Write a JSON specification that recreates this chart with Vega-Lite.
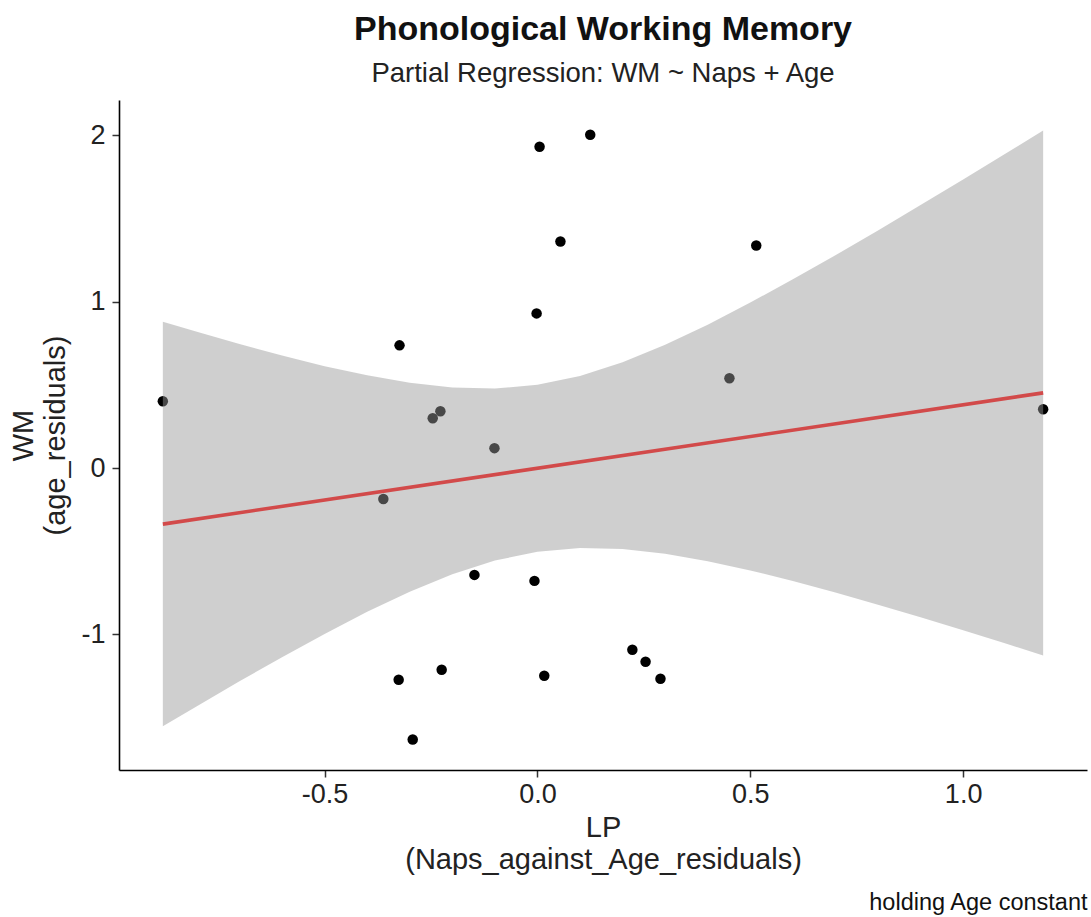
{
  "$schema": "https://vega.github.io/schema/vega-lite/v6.json",
  "autosize": "none",
  "padding": {"left": 119, "top": 100, "right": 4, "bottom": 147},
  "width": 968,
  "height": 670,
  "background": "white",
  "config": {
    "font": "Liberation Sans",
    "view": {"stroke": null},
    "axis": {
      "grid": false,
      "domainColor": "black",
      "domainWidth": 1.6,
      "tickColor": "#333333",
      "tickWidth": 1.5,
      "tickSize": 7,
      "labelColor": "#222222",
      "labelFont": "Liberation Sans",
      "labelFontSize": 27,
      "titleFont": "Liberation Sans",
      "titleFontSize": 29,
      "titleFontWeight": "normal",
      "titleColor": "#222222",
      "titleLineHeight": 32
    }
  },
  "datasets": {
    "residuals": [
      {"lp": -0.880, "wm": 0.402},
      {"lp": -0.324, "wm": 0.738},
      {"lp": -0.246, "wm": 0.300},
      {"lp": -0.228, "wm": 0.342},
      {"lp": -0.101, "wm": 0.120},
      {"lp": -0.362, "wm": -0.186},
      {"lp": -0.002, "wm": 0.930},
      {"lp": 0.005, "wm": 1.932},
      {"lp": 0.124, "wm": 2.004},
      {"lp": 0.054, "wm": 1.362},
      {"lp": 0.514, "wm": 1.338},
      {"lp": 0.451, "wm": 0.540},
      {"lp": 1.188, "wm": 0.354},
      {"lp": -0.148, "wm": -0.642},
      {"lp": -0.007, "wm": -0.678},
      {"lp": -0.326, "wm": -1.272},
      {"lp": -0.225, "wm": -1.212},
      {"lp": 0.016, "wm": -1.248},
      {"lp": -0.293, "wm": -1.632},
      {"lp": 0.223, "wm": -1.092},
      {"lp": 0.254, "wm": -1.164},
      {"lp": 0.289, "wm": -1.266}
    ],
    "band": [
      {"lp": -0.88, "lo": -1.552, "hi": 0.880},
      {"lp": -0.8, "lo": -1.431, "hi": 0.819},
      {"lp": -0.7, "lo": -1.282, "hi": 0.746},
      {"lp": -0.6, "lo": -1.137, "hi": 0.677},
      {"lp": -0.5, "lo": -0.997, "hi": 0.613},
      {"lp": -0.4, "lo": -0.864, "hi": 0.558},
      {"lp": -0.3, "lo": -0.743, "hi": 0.513},
      {"lp": -0.2, "lo": -0.638, "hi": 0.484},
      {"lp": -0.1, "lo": -0.556, "hi": 0.478},
      {"lp": 0.0, "lo": -0.503, "hi": 0.501},
      {"lp": 0.1, "lo": -0.480, "hi": 0.554},
      {"lp": 0.2, "lo": -0.486, "hi": 0.636},
      {"lp": 0.3, "lo": -0.515, "hi": 0.741},
      {"lp": 0.4, "lo": -0.560, "hi": 0.862},
      {"lp": 0.5, "lo": -0.615, "hi": 0.995},
      {"lp": 0.6, "lo": -0.679, "hi": 1.135},
      {"lp": 0.7, "lo": -0.748, "hi": 1.280},
      {"lp": 0.8, "lo": -0.821, "hi": 1.429},
      {"lp": 0.9, "lo": -0.897, "hi": 1.581},
      {"lp": 1.0, "lo": -0.975, "hi": 1.735},
      {"lp": 1.1, "lo": -1.055, "hi": 1.891},
      {"lp": 1.188, "lo": -1.126, "hi": 2.030}
    ]
  },
  "title": {
    "text": "Phonological Working Memory",
    "subtitle": "Partial Regression: WM ~ Naps + Age",
    "anchor": "middle",
    "frame": "group",
    "font": "Liberation Sans",
    "fontSize": 34,
    "fontWeight": "bold",
    "color": "#111111",
    "subtitleFont": "Liberation Sans",
    "subtitleFontSize": 27.5,
    "subtitleColor": "#222222",
    "subtitlePadding": 13,
    "offset": 13
  },
  "resolve": {"axis": {"x": "independent"}},
  "layer": [
    {
      "data": {"name": "residuals"},
      "mark": {"type": "circle", "size": 110, "opacity": 1, "color": "black"},
      "encoding": {
        "x": {
          "field": "lp",
          "type": "quantitative",
          "scale": {"domain": [-0.983, 1.291], "nice": false, "zero": false},
          "axis": {
            "values": [-0.5, 0, 0.5, 1.0],
            "labelExpr": "datum.value < 0 ? '-' + format(-datum.value, '.1f') : format(datum.value, '.1f')",
            "labelPadding": 4,
            "title": ["LP", "(Naps_against_Age_residuals)"],
            "titlePadding": 6
          }
        },
        "y": {
          "field": "wm",
          "type": "quantitative",
          "scale": {"domain": [-1.815, 2.213], "nice": false, "zero": false},
          "axis": {
            "values": [-1, 0, 1, 2],
            "labelExpr": "datum.value < 0 ? '-' + format(-datum.value, 'd') : format(datum.value, 'd')",
            "labelPadding": 7,
            "title": ["WM", "(age_residuals)"],
            "titlePadding": 10
          }
        }
      }
    },
    {
      "data": {"name": "band"},
      "mark": {"type": "area", "color": "#999999", "opacity": 0.47},
      "encoding": {
        "x": {"field": "lp", "type": "quantitative", "axis": null},
        "y": {"field": "lo", "type": "quantitative"},
        "y2": {"field": "hi"}
      }
    },
    {
      "data": {"name": "residuals"},
      "transform": [{"regression": "wm", "on": "lp"}],
      "mark": {"type": "line", "color": "#d24a4a", "strokeWidth": 3.6},
      "encoding": {
        "x": {
          "field": "lp",
          "type": "quantitative",
          "axis": {
            "orient": "bottom",
            "offset": 120,
            "title": "holding Age constant",
            "titleAnchor": "end",
            "titleAlign": "right",
            "titleFontSize": 23.5,
            "titleColor": "#111111",
            "labels": false,
            "ticks": false,
            "domain": false,
            "titlePadding": 0
          }
        },
        "y": {"field": "wm", "type": "quantitative"}
      }
    }
  ]
}
